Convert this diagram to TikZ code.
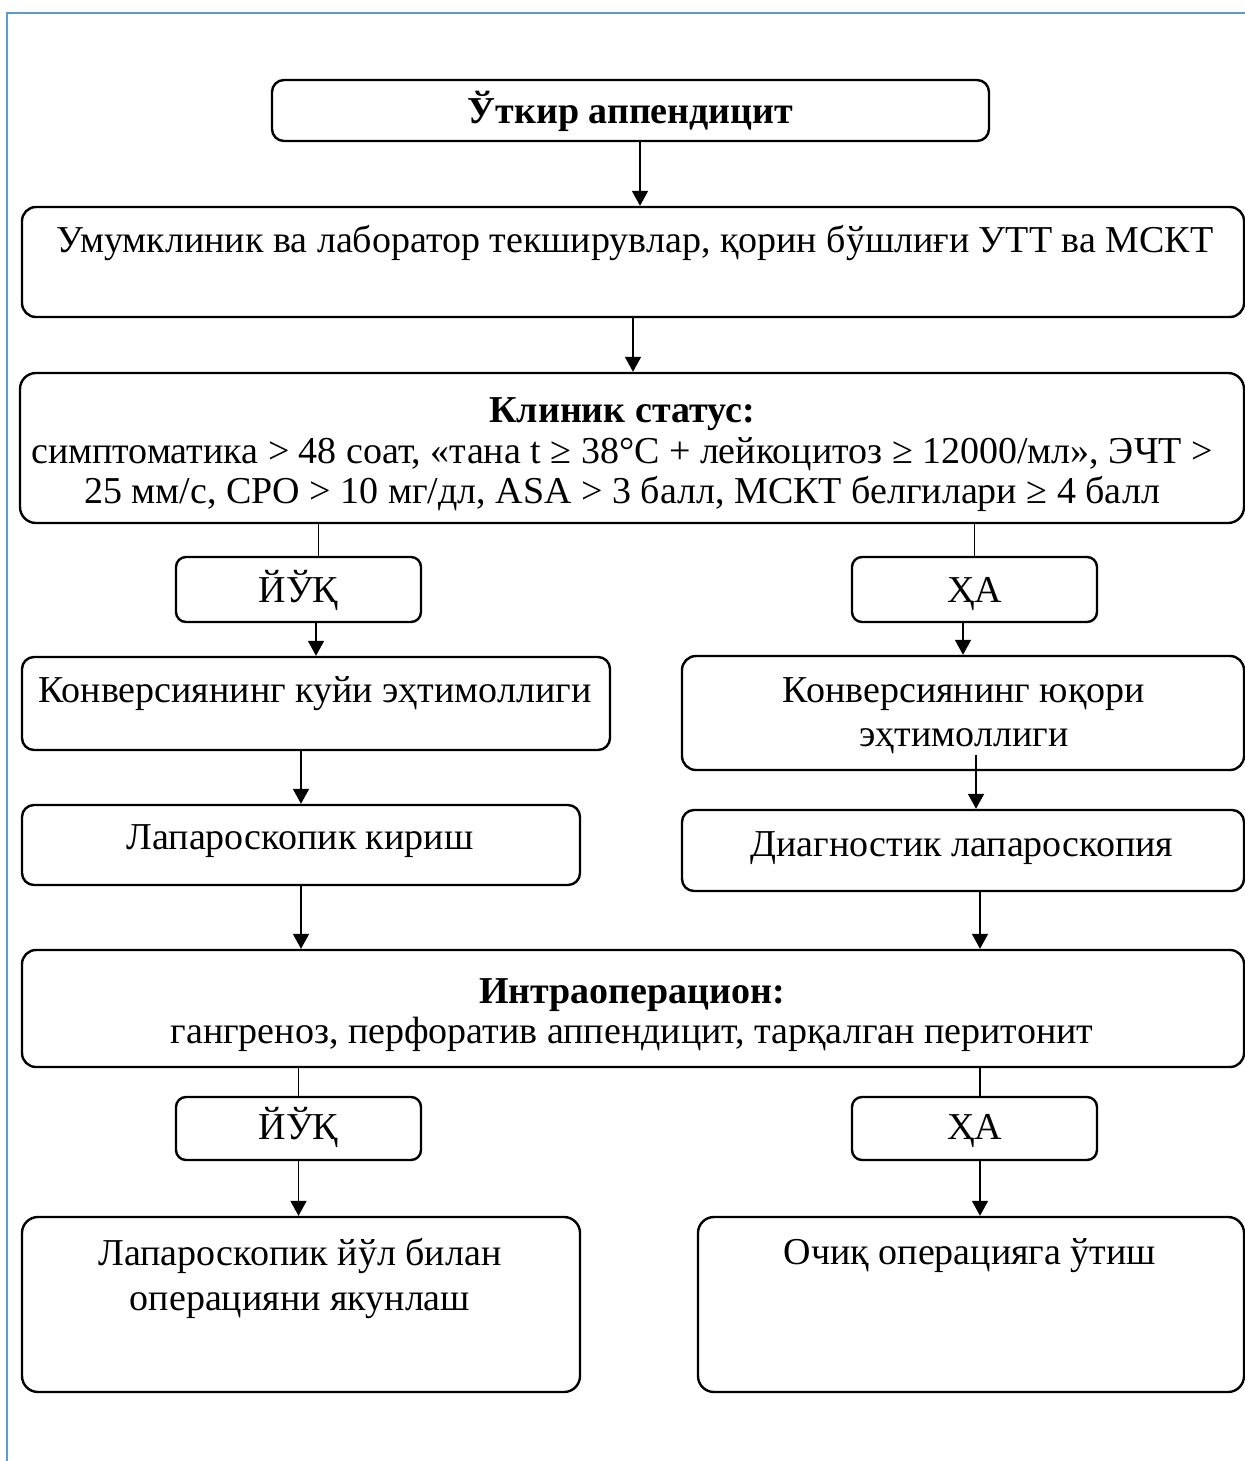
\documentclass[tikz,border=0pt]{standalone}
\usepackage{fontspec}
\setmainfont{Liberation Serif}
\usepackage{xcolor}
\usetikzlibrary{arrows.meta}
\usetikzlibrary{positioning}
\definecolor{frameblue}{RGB}{91,155,213}

\begin{document}
\begin{tikzpicture}[x=0.5pt, y=-0.5pt,
  box/.style={draw, line width=1.2pt, rounded corners=6pt, inner sep=0pt},
  txt/.style={align=center, inner sep=0pt, font=\fontsize{19}{20}\selectfont},
  arr/.style={line width=0.9pt, -{Triangle[length=7.5pt,width=8pt]}},
  lin/.style={line width=0.9pt}]

\useasboundingbox (0,0) rectangle (1245,1461);

% page frame
\draw[line width=1.3pt, frameblue] (7,1461) -- (7,13) -- (1245,13);

% boxes
\node[box, minimum width=358.5pt, minimum height=30.5pt] (tit) at (630.5,110.5) {};
\node[box, minimum width=611pt, minimum height=55pt, rounded corners=7pt] (gen) at (633,262) {};
\node[box, minimum width=612pt, minimum height=75pt, rounded corners=8pt] (st) at (632,448) {};
\node[box, minimum width=122.5pt, minimum height=32.5pt, rounded corners=5pt] (y1) at (298.5,589.5) {};
\node[box, minimum width=122.5pt, minimum height=32.5pt, rounded corners=5pt] (x1) at (974.5,589.5) {};
\node[box, minimum width=294pt, minimum height=46.5pt] (k1) at (316,703.5) {};
\node[box, minimum width=281pt, minimum height=57pt, rounded corners=7pt] (k2) at (963,713) {};
\node[box, minimum width=279pt, minimum height=40pt] (l1) at (301,845) {};
\node[box, minimum width=281pt, minimum height=40.5pt] (d1) at (963,850.5) {};
\node[box, minimum width=611pt, minimum height=58.5pt, rounded corners=7pt] (io) at (633,1008.5) {};
\node[box, minimum width=122.5pt, minimum height=31.5pt, rounded corners=5pt] (y2) at (298.5,1128.5) {};
\node[box, minimum width=122.5pt, minimum height=31.5pt, rounded corners=5pt] (x2) at (974.5,1128.5) {};
\node[box, minimum width=279pt, minimum height=87.5pt, rounded corners=8pt] (f1) at (301,1304.5) {};
\node[box, minimum width=273pt, minimum height=87.5pt, rounded corners=8pt] (f2) at (971,1304.5) {};

% texts
\node[txt] (titt) at (630.5,111) {\textbf{Ўткир аппендицит}};
\node[txt] (gent) at (635,243) {Умумклиник ва лаборатор текширувлар, қорин бўшлиғи УТТ ва МСКТ};
\node[txt] (stt) at (622,455) {\textbf{Клиник статус:}\\[0.5pt]
  симптоматика > 48 соат, «тана t ≥ 38°C + лейкоцитоз ≥ 12000/мл», ЭЧТ >\\
  25 мм/с, СРО > 10 мг/дл, ASA > 3 балл, МСКТ белгилари ≥ 4 балл};
\node[txt, anchor=base] (y1t) at (298.5,602) {ЙЎҚ};
\node[txt, anchor=base] (x1t) at (974.5,602) {ҲА};
\node[txt] (k1t) at (315,694) {Конверсиянинг куйи эҳтимоллиги};
\node[txt] (k2t) at (964,716) {Конверсиянинг юқори\\[2pt] эҳтимоллиги};
\node[txt] (l1t) at (300,841) {Лапароскопик кириш};
\node[txt] (d1t) at (962,848) {Диагностик лапароскопия};
\node[txt] (iot) at (632,1015) {\textbf{Интраоперацион:}\\
  гангреноз, перфоратив аппендицит, тарқалган перитонит};
\node[txt, anchor=base] (y2t) at (298.5,1139) {ЙЎҚ};
\node[txt, anchor=base] (x2t) at (974.5,1139) {ҲА};
\node[txt] (f1t) at (300,1278) {Лапароскопик йўл билан\\[2.5pt] операцияни якунлаш};
\node[txt] (f2t) at (970,1256) {Очиқ операцияга ўтиш};

% connectors
\coordinate (c1) at ([xshift=4.75pt]tit.south);
\coordinate (c2) at ([xshift=10pt]y1.north);
\coordinate (c3) at ([xshift=6.5pt]d1.north);
\coordinate (c4) at ([xshift=8.5pt]d1.south);
\coordinate (c5) at ([xshift=2.75pt]x2.north);

\draw[arr] (c1) -- (c1 |- gen.north);
\draw[arr] (gen.south) -- (gen.south |- st.north);
\draw[lin] (c2 |- st.south) -- (c2);
\draw[lin] (x1.north |- st.south) -- (x1.north);
\draw[arr] (k1.north |- y1.south) -- (k1.north);
\draw[arr] (k2.north |- x1.south) -- (k2.north);
\draw[arr] (l1.north |- k1.south) -- (l1.north);
\draw[arr] (c3 |- k2t.south) -- (c3);
\draw[arr] (l1.south) -- (l1.south |- io.north);
\draw[arr] (c4) -- (c4 |- io.north);
\draw[lin] (y2.north |- io.south) -- (y2.north);
\draw[arr] (y2.south) -- (y2.south |- f1.north);
\draw[lin] (c5 |- io.south) -- (c5);
\draw[arr] (c5 |- x2.south) -- (c5 |- f2.north);

\end{tikzpicture}
\end{document}
